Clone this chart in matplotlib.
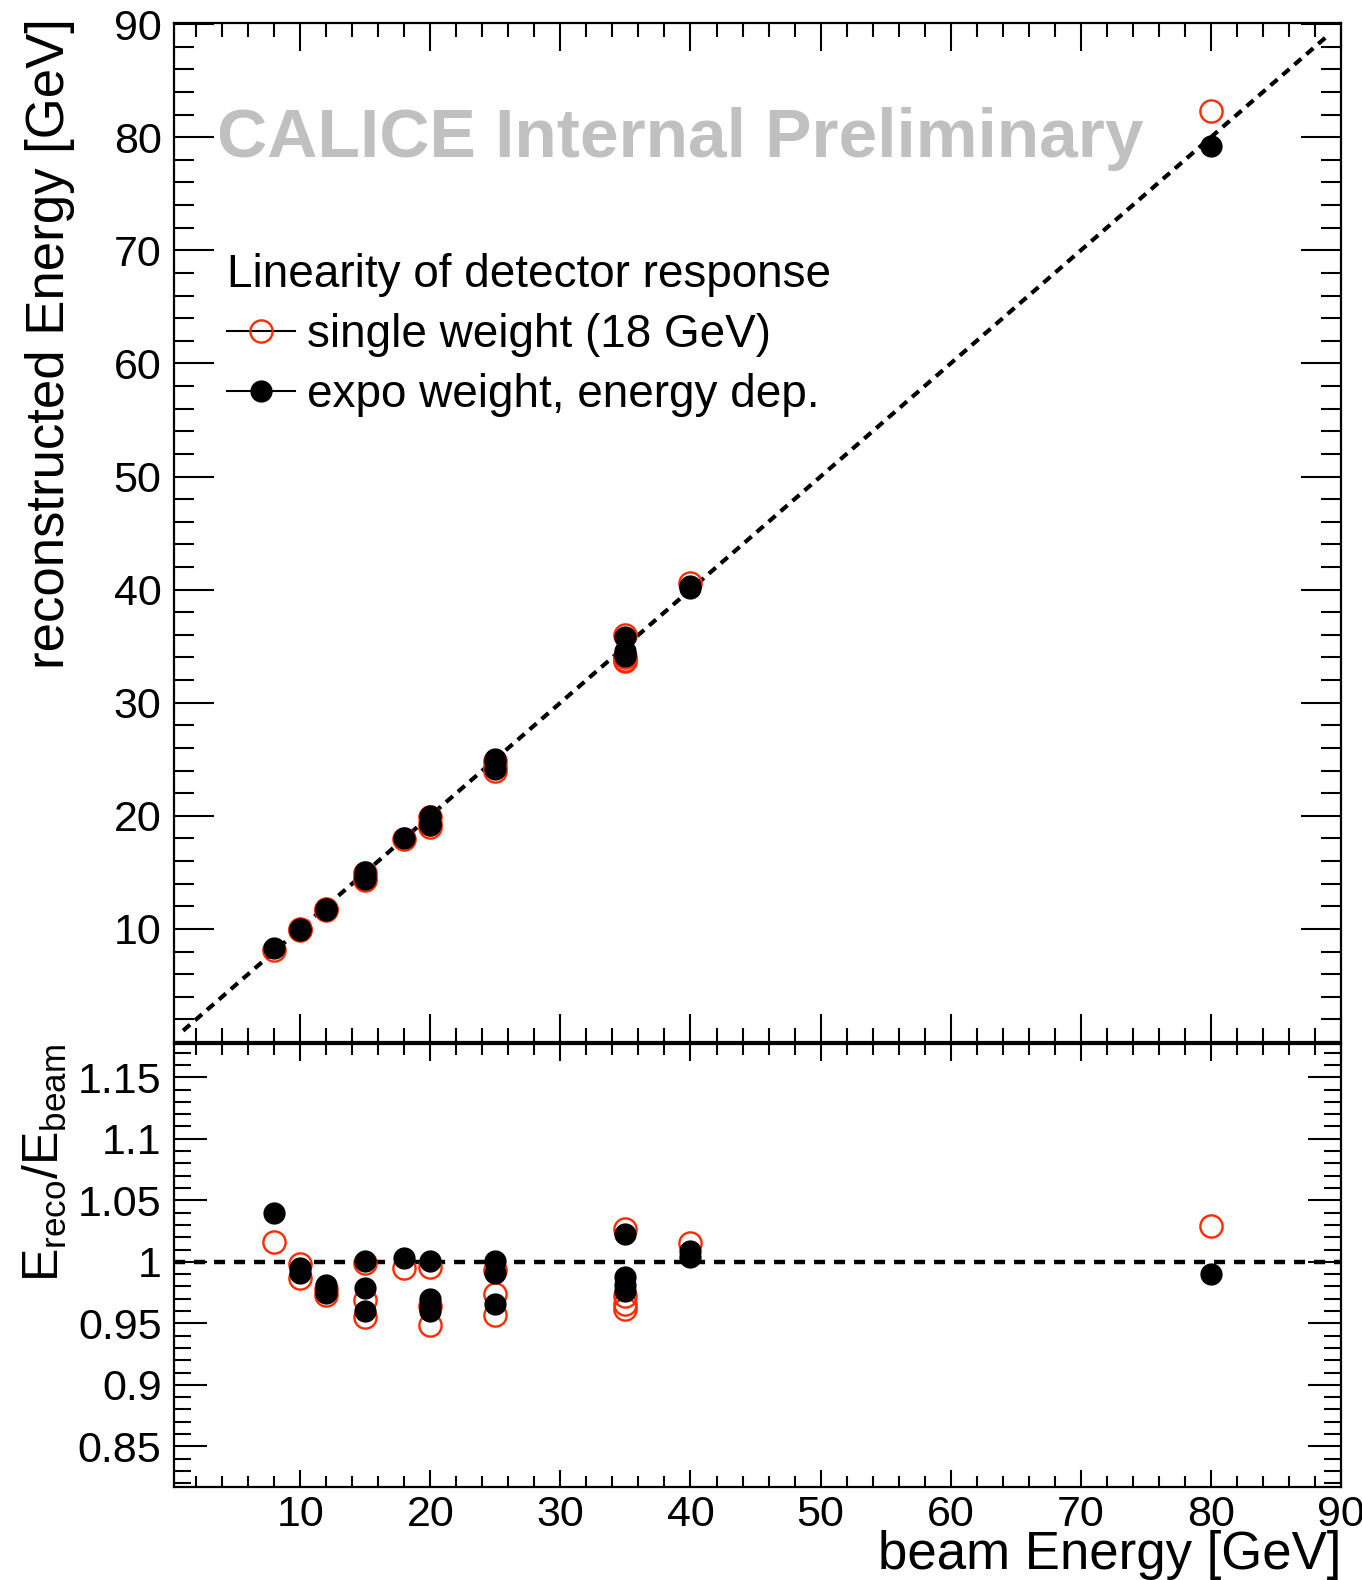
import numpy as np
import matplotlib
matplotlib.use('Agg')
import matplotlib.pyplot as plt
from matplotlib.ticker import MultipleLocator, FuncFormatter, NullFormatter
from matplotlib.lines import Line2D

plt.rcParams['font.family'] = ['Liberation Sans', 'DejaVu Sans']
plt.rcParams['mathtext.fontset'] = 'custom'
plt.rcParams['mathtext.rm'] = 'Liberation Sans'
plt.rcParams['mathtext.it'] = 'Liberation Sans'

# ---------------- data ----------------
single_E = [8, 10, 10, 12, 12, 15, 15, 15, 18, 20, 20, 20, 25, 25, 25,
            35, 35, 35, 35, 40, 80]
single_ratio = [1.016, 0.998, 0.987, 0.978, 0.973, 0.999, 0.969, 0.955, 0.995,
                0.996, 0.964, 0.949, 0.993, 0.974, 0.957, 1.027, 0.972, 0.966,
                0.962, 1.015, 1.029]
expo_E = [8, 10, 10, 12, 12, 12, 15, 15, 15, 18, 20, 20, 20, 20, 25, 25, 25,
          35, 35, 35, 35, 40, 40, 80]
expo_ratio = [1.040, 0.995, 0.991, 0.981, 0.977, 0.975, 1.001, 0.979, 0.960,
              1.003, 1.001, 0.970, 0.964, 0.960, 1.001, 0.991, 0.966, 1.023,
              0.988, 0.981, 0.976, 1.009, 1.004, 0.990]
diag_range = [1, 89]
x_ticks = [10, 20, 30, 40, 50, 60, 70, 80, 90]
top_y_ticks = [10, 20, 30, 40, 50, 60, 70, 80, 90]
ratio_ticks = [0.85, 0.9, 0.95, 1.0, 1.05, 1.1, 1.15]

single_reco = np.array(single_ratio) * np.array(single_E)
expo_reco = np.array(expo_ratio) * np.array(expo_E)

RED = '#ff2a00'
W, H = 1362, 1580
fig = plt.figure(figsize=(W / 100, H / 100), dpi=100)

L, R = 174 / W, 1341 / W
ax1 = fig.add_axes([L, 1 - 1042 / H, R - L, (1042 - 23) / H])
ax2 = fig.add_axes([L, 1 - 1487 / H, R - L, (1487 - 1044) / H])

FS = 31
TFS = 38
MS_R, MS_B = 16, 15
for ax in (ax1, ax2):
    for s in ax.spines.values():
        s.set_linewidth(1.6)
    ax.set_xlim(0.3, 90)
    ax.xaxis.set_major_locator(MultipleLocator(10))
    ax.xaxis.set_minor_locator(MultipleLocator(2))
    ax.tick_params(which='both', direction='in', top=True, right=True,
                   width=1.5, labelsize=FS)

# ---------------- top panel ----------------
ax1.set_ylim(0.0, 90.1)
ax1.set_yticks(top_y_ticks)
ax1.yaxis.set_minor_locator(MultipleLocator(2))
ax1.tick_params(axis='x', which='major', length=20)
ax1.tick_params(axis='x', which='minor', length=10)
ax1.tick_params(axis='y', which='major', length=29, pad=9)
ax1.tick_params(axis='y', which='minor', length=14.5)
ax1.xaxis.set_major_formatter(NullFormatter())

ax1.plot(diag_range, diag_range, color='black', lw=3.0,
         linestyle=(0, (2.2, 1.6)), zorder=2)
ax1.plot(single_E, single_reco, linestyle='none', marker='o', ms=MS_R,
         mfc='none', mec=RED, mew=1.7, zorder=3)
ax1.plot(expo_E, expo_reco, linestyle='none', marker='o', ms=MS_B,
         mfc='black', mec='black', zorder=4)

ax1.text(0.037, 0.886, 'CALICE Internal Preliminary', transform=ax1.transAxes,
         fontsize=50, fontweight='bold', color='#c0c0c0', ha='left', va='center')

h1 = Line2D([], [], color='black', lw=1.5, marker='o', ms=MS_R, mfc='none',
            mec=RED, mew=1.7)
h2 = Line2D([], [], color='black', lw=1.5, marker='o', ms=MS_B, mfc='black',
            mec='black')
leg = ax1.legend([h1, h2], ['single weight (18 GeV)', 'expo weight, energy dep.'],
                 title='Linearity of detector response', loc='upper left',
                 bbox_to_anchor=(0.045, 0.774), frameon=False, fontsize=33,
                 title_fontsize=33, handlelength=1.5, handletextpad=0.26,
                 labelspacing=0.35, borderaxespad=0, borderpad=0,
                 alignment='left')

ax1.set_ylabel('reconstructed Energy [GeV]', fontsize=TFS)
ax1.yaxis.set_label_coords(-0.085, 1.005)
ax1.yaxis.label.set_horizontalalignment('right')

# ---------------- bottom panel ----------------
ax2.set_ylim(0.817, 1.177)
ax2.set_yticks(ratio_ticks)
ax2.yaxis.set_minor_locator(MultipleLocator(0.01))
ax2.yaxis.set_major_formatter(FuncFormatter(lambda v, p: '%g' % round(v, 3)))
ax2.set_xticks(x_ticks)
ax2.tick_params(axis='x', which='major', length=12, pad=6)
ax2.tick_params(axis='x', which='minor', length=8)
ax2.tick_params(axis='y', which='major', length=24, pad=9)
ax2.tick_params(axis='y', which='minor', length=12)

ax2.axhline(1.0, color='black', lw=3.2, linestyle=(0, (2.5, 2.0)), zorder=2)
ax2.plot(single_E, single_ratio, linestyle='none', marker='o', ms=MS_R,
         mfc='none', mec=RED, mew=1.7, zorder=3)
ax2.plot(expo_E, expo_ratio, linestyle='none', marker='o', ms=MS_B,
         mfc='black', mec='black', zorder=4)

ax2.set_ylabel(r'$\mathregular{E_{reco}/E_{beam}}$', fontsize=36)
ax2.yaxis.set_label_coords(-0.090, 1.0)
ax2.yaxis.label.set_horizontalalignment('right')

ax2.set_xlabel('beam Energy [GeV]', fontsize=TFS)
ax2.xaxis.set_label_coords(1.0, -0.097)
ax2.xaxis.label.set_horizontalalignment('right')

fig.savefig('out.png', dpi=100)
